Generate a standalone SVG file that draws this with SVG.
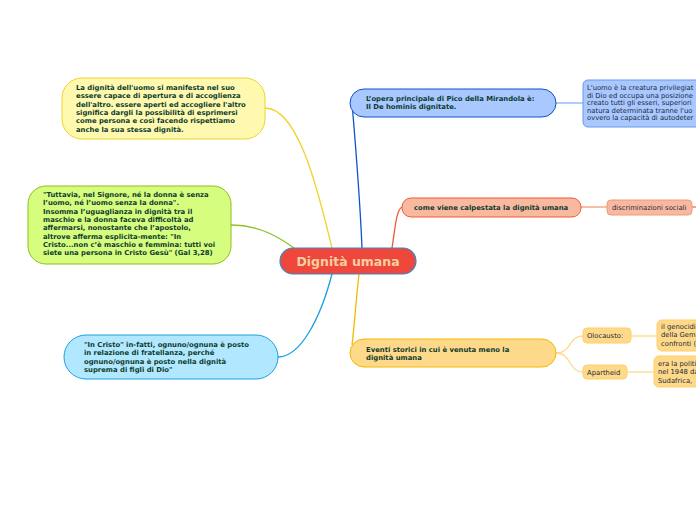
<svg xmlns="http://www.w3.org/2000/svg" width="696" height="520" viewBox="0 0 696 520">
<style>
text{font-family:"DejaVu Sans",Verdana,sans-serif;}
.b{font-size:6.85px;font-weight:bold;fill:#0d3b2e;}
.n{font-size:6.8px;fill:#1a2a3a;}
.c{fill:none;stroke-width:1.3;}
</style>
<rect width="696" height="520" fill="#ffffff"/>
<g id="connectors">
<path class="c" stroke="#ecd42a" d="M265,108 C300,108 320,200 332,248"/>
<path class="c" stroke="#8cbf1e" d="M231,225 C260,225 280,238 294,248"/>
<path class="c" stroke="#1aa0e0" d="M278,357 C300,357 320,320 332,274"/>
<path class="c" stroke="#1252c8" d="M352,103 C356,150 360,200 362,248"/>
<path class="c" stroke="#f05a30" d="M392,248 C395,230 396,210 402,207"/>
<path class="c" stroke="#f5b800" d="M359,274 C356,300 354,330 352,345"/>
<path class="c" stroke="#8ab0f0" d="M556,103 L583,103"/>
<path class="c" stroke="#f59878" d="M581,207 L607,207"/>
<path class="c" stroke="#f07040" d="M692,207 L696,207"/>
<path class="c" stroke="#ffd98a" d="M556,353 C572,353 568,336 583,336"/>
<path class="c" stroke="#ffd98a" d="M556,353 C572,353 568,372 583,372"/>
<path class="c" stroke="#ffd98a" d="M631,336 L657,336"/>
<path class="c" stroke="#ffd98a" d="M627,372 L654,372"/>
</g>
<g id="center">
<rect x="280" y="248" width="136" height="26" rx="13" fill="#f0473d" stroke="#3a86c8" stroke-width="1.2"/>
<text x="348" y="266" text-anchor="middle" font-size="12.5" font-weight="bold" fill="#f6d0a0">Dignità umana</text>
</g>
<g id="n-yellow">
<rect x="62" y="78" width="203" height="61" rx="20" fill="#fff9b0" stroke="#ecd42a" stroke-width="1"/>
<text class="b" x="76" y="90"><tspan x="76">La dignità dell'uomo si manifesta nel suo</tspan><tspan x="76" dy="8.3">essere capace di apertura e di accoglienza</tspan><tspan x="76" dy="8.3">dell'altro. essere aperti ed accogliere l'altro</tspan><tspan x="76" dy="8.3">significa dargli la possibilità di esprimersi</tspan><tspan x="76" dy="8.3">come persona e così facendo rispettiamo</tspan><tspan x="76" dy="8.3">anche la sua stessa dignità.</tspan></text>
</g>
<g id="n-green">
<rect x="28" y="186" width="203" height="78" rx="18" fill="#d6fd7e" stroke="#8cbf1e" stroke-width="1"/>
<text class="b" x="43" y="197"><tspan x="43">"Tuttavia, nel Signore, né la donna è senza</tspan><tspan x="43" dy="8.3">l’uomo, né l’uomo senza la donna".</tspan><tspan x="43" dy="8.3">Insomma l’uguaglianza in dignità tra il</tspan><tspan x="43" dy="8.3">maschio e la donna faceva difficoltà ad</tspan><tspan x="43" dy="8.3">affermarsi, nonostante che l’apostolo,</tspan><tspan x="43" dy="8.3">altrove afferma esplicita-mente: "In</tspan><tspan x="43" dy="8.3">Cristo...non c’è maschio e femmina: tutti voi</tspan><tspan x="43" dy="8.3">siete una persona in Cristo Gesù" (Gal 3,28)</tspan></text>
</g>
<g id="n-cyan">
<rect x="64" y="335" width="214" height="44" rx="22" fill="#b2e8ff" stroke="#1aa0e0" stroke-width="1"/>
<text class="b" x="84" y="347"><tspan x="84">"In Cristo" in-fatti, ognuno/ognuna è posto</tspan><tspan x="84" dy="8.3">in relazione di fratellanza, perché</tspan><tspan x="84" dy="8.3">ognuno/ognuna è posto nella dignità</tspan><tspan x="84" dy="8.3">suprema di figli di Dio"</tspan></text>
</g>
<g id="n-opera">
<rect x="350" y="89" width="206" height="28" rx="14" fill="#a8c8ff" stroke="#1252c8" stroke-width="1"/>
<text class="b" x="366" y="101"><tspan x="366">L’opera principale di Pico della Mirandola è:</tspan><tspan x="366" dy="8.3">Il De hominis dignitate.</tspan></text>
</g>
<g id="n-uomo">
<rect x="583" y="80" width="130" height="47" rx="5" fill="#a8c8ff" stroke="#6a98e8" stroke-width="1"/>
<text class="n" x="587" y="90"><tspan x="587">L'uomo è la creatura privilegiat</tspan><tspan x="587" dy="7.6">di Dio ed occupa una posizione</tspan><tspan x="587" dy="7.6">creato tutti gli esseri, superiori</tspan><tspan x="587" dy="7.6">natura determinata tranne l'uo</tspan><tspan x="587" dy="7.6">ovvero la capacità di autodeter</tspan></text>
</g>
<g id="n-calpestata">
<rect x="402" y="198" width="179" height="19" rx="9" fill="#f9b9a0" stroke="#f05a30" stroke-width="1"/>
<text class="b" x="414" y="210">come viene calpestata la dignità umana</text>
</g>
<g id="n-discriminazioni">
<rect x="607" y="200" width="85" height="15" rx="4" fill="#f9b9a0" stroke="#f59878" stroke-width="1"/>
<text class="n" x="612" y="210">discriminazioni sociali</text>
</g>
<g id="n-eventi">
<rect x="350" y="339" width="206" height="28" rx="14" fill="#ffd98a" stroke="#f5b800" stroke-width="1"/>
<text class="b" x="366" y="352"><tspan x="366">Eventi storici in cui è venuta meno la</tspan><tspan x="366" dy="8.3">dignità umana</tspan></text>
</g>
<g id="n-olocausto">
<rect x="583" y="328" width="48" height="15" rx="4" fill="#ffd98a" stroke="#ffcf6a" stroke-width="1"/>
<text class="n" x="587" y="338">Olocausto:</text>
</g>
<g id="n-apartheid">
<rect x="583" y="365" width="44" height="14" rx="4" fill="#ffd98a" stroke="#ffcf6a" stroke-width="1"/>
<text class="n" x="587" y="375">Apartheid</text>
</g>
<g id="n-genocidio">
<rect x="657" y="320" width="60" height="31" rx="5" fill="#ffd98a" stroke="#ffcf6a" stroke-width="1"/>
<text class="n" x="661" y="329"><tspan x="661">il genocidi</tspan><tspan x="661" dy="8.3">della Gem</tspan><tspan x="661" dy="8.3">confronti (</tspan></text>
</g>
<g id="n-politica">
<rect x="654" y="356" width="60" height="31" rx="5" fill="#ffd98a" stroke="#ffcf6a" stroke-width="1"/>
<text class="n" x="658" y="366"><tspan x="658">era la politi</tspan><tspan x="658" dy="8.3">nel 1948 da</tspan><tspan x="658" dy="8.3">Sudafrica,</tspan></text>
</g>
</svg>
